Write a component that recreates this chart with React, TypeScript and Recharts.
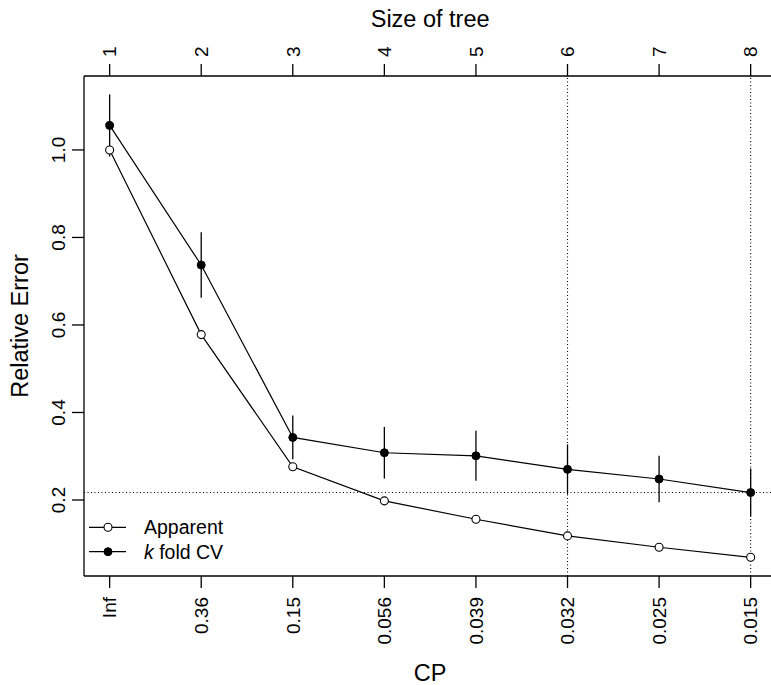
import React from 'react';
import { ComposedChart, Line, XAxis, YAxis, ErrorBar, ReferenceLine, Legend } from 'recharts';

const treeSizes = [1, 2, 3, 4, 5, 6, 7, 8];
const cpLabels = ['Inf', '0.36', '0.15', '0.056', '0.039', '0.032', '0.025', '0.015'];
const apparentError = [1.0, 0.578, 0.276, 0.198, 0.156, 0.118, 0.092, 0.069];
const cvError = [1.056, 0.737, 0.343, 0.308, 0.301, 0.27, 0.248, 0.217];
const cvStdErr = [0.071, 0.075, 0.05, 0.059, 0.057, 0.057, 0.053, 0.055];
const yTicks = [0.2, 0.4, 0.6, 0.8, 1.0];
const minLine = 0.217;
const markedSizes = [6, 8];

const data = treeSizes.map((s, i) => ({
  size: s,
  apparent: apparentError[i],
  cv: cvError[i],
  cvErr: cvStdErr[i],
}));

const FONT = '"Liberation Sans", Arial, Helvetica, sans-serif';
const TICK_FS = 19;
const TITLE_FS = 23.5;

const BottomTick = (props: any) => {
  const { x, y, payload } = props;
  const ay = y + 9;
  return (
    <text x={x} y={ay} transform={`rotate(-90, ${x}, ${ay})`} textAnchor="end" dy="0.36em"
      fontSize={TICK_FS} fontFamily={FONT} fill="#000">
      {cpLabels[treeSizes.indexOf(payload.value)]}
    </text>
  );
};

const TopTick = (props: any) => {
  const { x, y, payload } = props;
  const ay = y - 7;
  return (
    <text x={x} y={ay} transform={`rotate(-90, ${x}, ${ay})`} textAnchor="start" dy="0.36em"
      fontSize={TICK_FS} fontFamily={FONT} fill="#000">
      {payload.value}
    </text>
  );
};

const LeftTick = (props: any) => {
  const { x, y, payload } = props;
  const ax = x - 7;
  return (
    <text x={ax} y={y} transform={`rotate(-90, ${ax}, ${y})`} textAnchor="middle"
      fontSize={TICK_FS} fontFamily={FONT} fill="#000">
      {Number(payload.value).toFixed(1)}
    </text>
  );
};

const LegendBox = () => (
  <svg width={220} height={60} style={{ display: 'block' }}>
    <line x1={5} x2={42} y1={17.3} y2={17.3} stroke="#000" strokeWidth={1.2} />
    <circle cx={24} cy={17.3} r={4} fill="#fff" stroke="#000" strokeWidth={1.1} />
    <text x={60} y={17.3} dy="0.36em" fontSize={19.5} fontFamily={FONT} fill="#000">Apparent</text>
    <line x1={5} x2={42} y1={41.7} y2={41.7} stroke="#000" strokeWidth={1.2} />
    <circle cx={24} cy={41.7} r={4} fill="#000" stroke="#000" strokeWidth={1} />
    <text x={60} y={41.7} dy="0.36em" fontSize={19.5} fontFamily={FONT} fill="#000">
      <tspan fontStyle="italic">k</tspan> fold CV
    </text>
  </svg>
);

export default function App() {
  return (
    <div style={{ position: 'fixed', left: 0, top: 0, width: 771, height: 685, overflow: 'hidden', background: '#fff' }}>
      <ComposedChart width={800} height={685} data={data}
        margin={{ top: 0, right: 23.7, bottom: 0, left: 0 }}>
        <XAxis xAxisId="bottom" type="number" dataKey="size" domain={[0.72, 8.28]} ticks={treeSizes}
          allowDataOverflow interval={0} height={109} tickSize={12} tickMargin={0}
          axisLine={{ stroke: '#000', strokeWidth: 1.3 }} tickLine={{ stroke: '#000', strokeWidth: 1.3 }}
          tick={<BottomTick />}
          label={{
            content: (p: any) => {
              const vb = p.viewBox;
              return (
                <text x={vb.x + vb.width / 2} y={vb.y + 105} textAnchor="middle" fontSize={TITLE_FS}
                  fontFamily={FONT} fill="#000">CP</text>
              );
            },
          }}
        />
        <XAxis xAxisId="top" orientation="top" type="number" dataKey="size" domain={[0.72, 8.28]} ticks={treeSizes}
          allowDataOverflow interval={0} height={76} tickSize={12} tickMargin={0}
          axisLine={{ stroke: '#000', strokeWidth: 1.3 }} tickLine={{ stroke: '#000', strokeWidth: 1.3 }}
          tick={<TopTick />}
          label={{
            content: (p: any) => {
              const vb = p.viewBox;
              return (
                <text x={vb.x + vb.width / 2} y={26.5} textAnchor="middle" fontSize={TITLE_FS}
                  fontFamily={FONT} fill="#000">Size of tree</text>
              );
            },
          }}
        />
        <YAxis type="number" domain={[0.0263, 1.169]} ticks={yTicks} allowDataOverflow interval={0}
          width={84} tickSize={12} tickMargin={0}
          axisLine={{ stroke: '#000', strokeWidth: 1.3 }} tickLine={{ stroke: '#000', strokeWidth: 1.3 }}
          tick={<LeftTick />}
          label={{
            content: (p: any) => {
              const vb = p.viewBox;
              const cx = vb.x + 28.3;
              const cy = vb.y + vb.height / 2;
              return (
                <text x={cx} y={cy} transform={`rotate(-90, ${cx}, ${cy})`} textAnchor="middle"
                  fontSize={TITLE_FS} fontFamily={FONT} fill="#000">Relative Error</text>
              );
            },
          }}
        />
        <ReferenceLine xAxisId="bottom" y={minLine} stroke="#000" strokeWidth={1.1} strokeDasharray="1 2.5" />
        {markedSizes.map((s) => (
          <ReferenceLine key={s} xAxisId="bottom" x={s} stroke="#000" strokeWidth={1.1} strokeDasharray="1 2.5" />
        ))}
        <Line xAxisId="bottom" dataKey="cv" stroke="#000" strokeWidth={1.2} isAnimationActive={false}
          dot={{ r: 4, fill: '#000', stroke: '#000', strokeWidth: 1 }} activeDot={false}>
          <ErrorBar dataKey="cvErr" direction="y" width={0} stroke="#000" strokeWidth={1.3} isAnimationActive={false} />
        </Line>
        <Line xAxisId="bottom" dataKey="apparent" stroke="#000" strokeWidth={1.2} isAnimationActive={false}
          dot={{ r: 4, fill: '#fff', stroke: '#000', strokeWidth: 1.1 }} activeDot={false} />
        <Legend layout="horizontal" verticalAlign="middle" align="center"
          wrapperStyle={{ left: 84, top: 510, width: 220, height: 60, margin: 0, padding: 0 }}
          content={() => <LegendBox />} />
      </ComposedChart>
    </div>
  );
}
